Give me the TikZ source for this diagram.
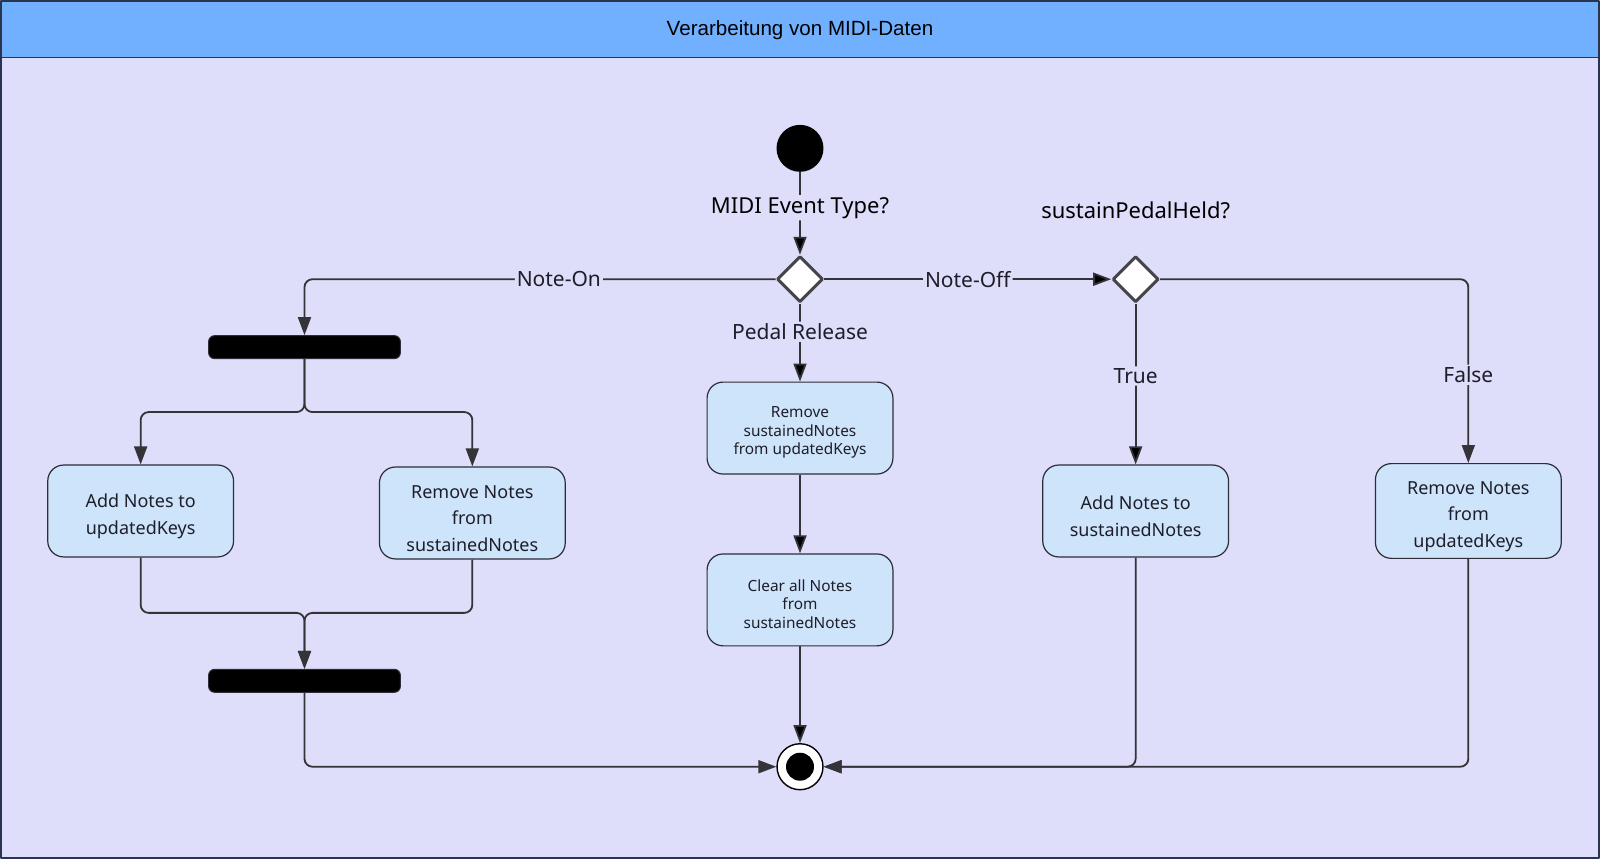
\documentclass[tikz,border=0pt]{standalone}
\usepackage{fontspec}
\setmainfont{Noto Sans}
\newfontfamily\titlefont{Liberation Sans}
\usetikzlibrary{shapes.geometric,arrows.meta}
\definecolor{framebg}{RGB}{222,221,250}
\definecolor{hdrblue}{RGB}{112,176,255}
\definecolor{frameline}{RGB}{40,52,80}
\definecolor{boxblue}{RGB}{206,228,251}
\definecolor{boxline}{RGB}{45,45,55}
\definecolor{diaLine}{RGB}{68,68,74}
\definecolor{flowline}{RGB}{51,51,56}
\definecolor{ink}{RGB}{30,30,42}
% strut that pushes box text a little lower
\newcommand{\tp}[1]{\rule{0pt}{#1}}
\begin{document}
\begin{tikzpicture}
  [x=0.5pt,y=-0.5pt,line join=round,
   act/.style={rectangle,rounded corners=8pt,draw=boxline,fill=boxblue,line width=0.6pt,
     minimum width=93pt,minimum height=46pt,align=center,text=ink,
     font=\fontsize{9}{13.3}\selectfont},
   actsmall/.style={act,font=\fontsize{7.7}{9.4}\selectfont},
   bar/.style={rectangle,rounded corners=3pt,fill=black,draw=boxline,line width=0.5pt,
     minimum width=96pt,minimum height=11.5pt,inner sep=0pt},
   choice/.style={diamond,aspect=1,draw=diaLine,fill=white,line width=1.5pt,
     minimum size=23pt,inner sep=0pt},
   lbl/.style={fill=framebg,inner sep=1pt,text=ink,font=\fontsize{10.5}{12}\selectfont},
   flow/.style={draw=flowline,line width=0.9pt,rounded corners=4pt,
     -{Triangle[length=9pt,width=6.5pt]}}]

% frame and header
\fill [framebg] (0,0) rectangle (1600,859);
\fill [hdrblue] (0,0) rectangle (1600,57);
\draw [frameline,line width=0.8pt] (0,57) -- (1600,57);
\draw [frameline,line width=1pt] (0.5,0.5) rectangle (1599.5,858.5);
\useasboundingbox (0,0) rectangle (1600,859);
\node (title) at (800,30) {\titlefont\fontsize{10.3}{12}\selectfont Verarbeitung von MIDI-Daten};

\node (start)[circle,fill=black,minimum size=23.5pt,inner sep=0pt] at (800,148) {};
\node (d1)[choice] at (800,279) {};
\node (d2)[choice] at (1136,279) {};
\node (held)[font=\fontsize{11}{13}\selectfont] at (1136,210) {sustainPedalHeld?};

\node (fork1)[bar] at (304,347) {};
\node (addU)[act] at (140,511) {\tp{12pt}Add Notes to\\updatedKeys};
\node (remS)[act] at (472,513) {\tp{12pt}Remove Notes\\from\\sustainedNotes};
\node (fork2)[bar] at (304,681) {};

\node (remP)[actsmall] at (800,428) {\tp{10pt}Remove\\sustainedNotes\\from updatedKeys};
\node (clr)[actsmall] at (800,600) {\tp{10pt}Clear all Notes\\from\\sustainedNotes};

\node (addS)[act] at (1136,511) {\tp{12pt}Add Notes to\\sustainedNotes};
\node (remU)[act] at (1469,511) {\tp{12pt}Remove Notes\\from\\updatedKeys};

\node (stop)[circle,draw=black,fill=white,line width=0.7pt,minimum size=23pt,inner sep=0pt] at (800,767) {};
\node (stopdot)[circle,fill=black,minimum size=14pt,inner sep=0pt] at (stop) {};

\coordinate (split) at (304,412);
\coordinate (jn) at (304,613);

% flows
\path [flow] (start) edge node[lbl,pos=.43,text=black,font=\fontsize{11}{13}\selectfont] (lEvt) {MIDI Event Type?} (d1);
\draw [flow] (d1.west) -| node[lbl,pos=.23] (lOn) {Note-On} (fork1.north);
\path [flow] (d1) edge node[lbl] (lOff) {Note-Off} (d2);
\path [flow] (d1) edge node[lbl,pos=.36] (lPed) {Pedal Release} (remP);

\draw [flow] (fork1.south) -- (split) -| (addU.north);
\draw [flow] (fork1.south) -- (split) -| (remS.north);
\draw [flow] (addU.south) |- (jn) -- (fork2.north);
\draw [flow] (remS.south) |- (jn) -- (fork2.north);
\draw [flow] (fork2.south) |- (stop.west);

\path [flow] (remP) edge (clr);
\path [flow] (clr) edge (stop);

\path [flow] (d2) edge node[lbl,pos=.45] (lTrue) {True} (addS);
\draw [flow] (d2.east) -| node[lbl,pos=.76] (lFalse) {False} (remU.north);
\draw [flow] (addS.south) |- (stop.east);
\draw [flow] (remU.south) |- (stop.east);
\end{tikzpicture}
\end{document}
